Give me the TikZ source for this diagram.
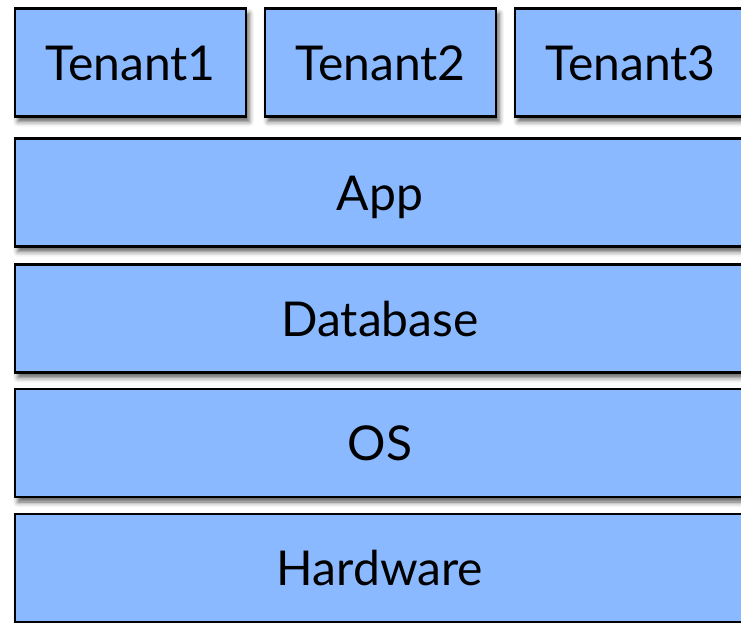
\documentclass[tikz,border=0pt]{standalone}
\usepackage{fontspec}
\setmainfont{Lato}
\usetikzlibrary{shadows.blur}
\definecolor{boxblue}{HTML}{8AB9FF}
\begin{document}
\begin{tikzpicture}[x=1pt,y=-1pt,
  layer/.style={draw=black, line width=2.4pt, fill=boxblue, inner sep=0pt,
    minimum height=108pt, font=\fontsize{48}{54}\selectfont,
    text height=35pt, text depth=-6pt,
    blur shadow={shadow xshift=3pt, shadow yshift=-5pt, shadow blur radius=5pt, shadow opacity=65}},
  tenant/.style={layer, minimum width=231pt},
  full/.style={layer, minimum width=730pt}]
\useasboundingbox (0,0) rectangle (741,622);
\clip (0,0) rectangle (741,622);
\node[tenant] (t1) at (130.5,62.5) {Tenant1};
\node[tenant] (t2) at (380.5,62.5) {Tenant2};
\node[tenant] (t3) at (630.5,62.5) {Tenant3};
\node[full] (app) at (380,192.5) {App};
\node[full] (db) at (380,318.5) {Database};
\node[full] (os) at (380,443) {OS};
\node[full] (hw) at (380,568) {Hardware};
\end{tikzpicture}
\end{document}
